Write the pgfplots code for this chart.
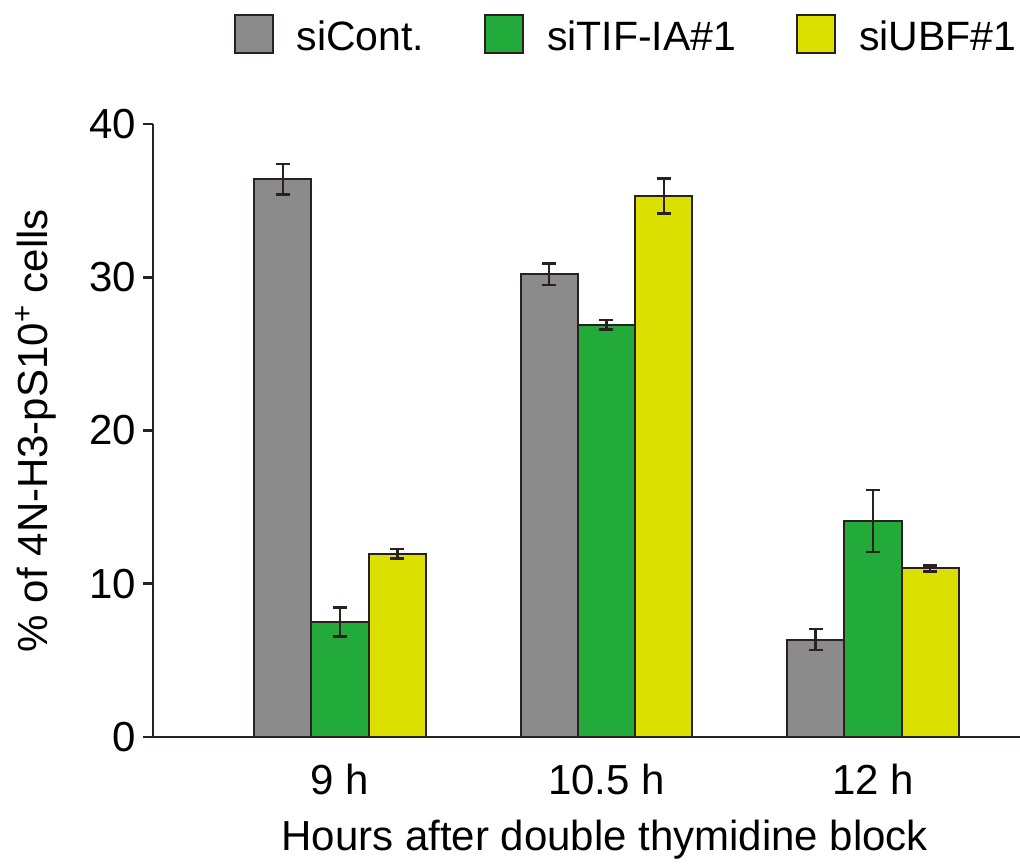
\documentclass[border=0pt]{standalone}
\usepackage{pgfplots}
\pgfplotsset{compat=1.18}
\usepackage{fontspec}
\setmainfont{Liberation Sans}
\definecolor{cgray}{HTML}{8B8B8B}
\definecolor{cgreen}{HTML}{22AB3A}
\definecolor{cyellow}{HTML}{DCE000}
\definecolor{cline}{HTML}{2A2020}
\newcommand{\bigfont}{\fontsize{21}{25}\selectfont}
\newcommand{\legfont}{\fontsize{20.5}{24}\selectfont}
\begin{document}
\begin{tikzpicture}
\useasboundingbox (-76.5pt,-63.5pt) rectangle (433.5pt,368.5pt);
\begin{axis}[
  scale only axis,
  width=433.5pt, height=306.5pt,
  xmin=-0.702, xmax=2.552,
  ymin=0, ymax=40,
  axis lines=left,
  axis line style={line width=1.4pt, color=cline, -},
  ytick={0,10,20,30,40},
  xtick={0,1,2},
  xticklabels={9 h, 10.5 h, 12 h},
  xtick style={draw=none},
  ytick style={line width=1.4pt, color=cline},
  tick align=outside,
  major tick length=5pt,
  /pgf/number format/assume math mode=true,
  tick label style={font=\bigfont},
  xticklabel style={yshift=-5pt},
  xlabel={Hours after double thymidine block},
  xlabel style={font=\bigfont, at={(axis description cs:0.521,0)}, anchor=north, inner sep=0pt, yshift=-41.5pt},
  ylabel={\% of 4N-H3-pS10\textsuperscript{+} cells},
  ylabel style={font=\bigfont, at={(axis description cs:0,0.5)}, anchor=center, yshift=58.5pt},
  ybar, bar width=0.215,
  every axis plot/.append style={draw=cline, line width=1pt},
  error bars/y dir=both, error bars/y explicit,
  error bars/error bar style={line width=1.2pt, color=cline},
  error bars/error mark options={rotate=90, line width=1.2pt, mark size=3.5pt, color=cline},
  legend columns=-1,
  legend style={draw=none, fill=none, font=\legfont,
    at={(axis description cs:0.5445,1.147)}, anchor=center,
    nodes={inner sep=0pt},
    /tikz/every odd column/.append style={column sep=11.5pt},
    /tikz/every even column/.append style={column sep=30pt}},
  legend image code/.code={\draw[#1, line width=1pt] (0pt,-7.75pt) rectangle (19pt,11.25pt);},
]
\addplot[fill=cgray, bar shift=-0.215] coordinates {(0,36.4) +- (0,1.0) (1,30.2) +- (0,0.7) (2,6.35) +- (0,0.68)};
\addplot[fill=cgreen, bar shift=0] coordinates {(0,7.5) +- (0,0.95) (1,26.9) +- (0,0.3) (2,14.1) +- (0,2.03)};
\addplot[fill=cyellow, bar shift=0.215] coordinates {(0,11.95) +- (0,0.3) (1,35.3) +- (0,1.15) (2,11.0) +- (0,0.2)};
\legend{siCont., siTIF-IA\#1, siUBF\#1}
\end{axis}
\end{tikzpicture}
\end{document}
